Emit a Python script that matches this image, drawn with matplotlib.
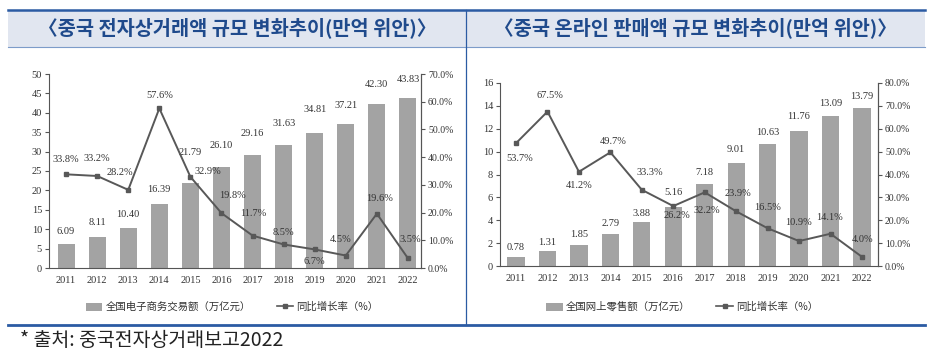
import numpy as np
import matplotlib
matplotlib.use("Agg")
import matplotlib.pyplot as plt
from matplotlib.patches import Rectangle, Patch
from matplotlib.lines import Line2D


years = ["2011", "2012", "2013", "2014", "2015", "2016",
         "2017", "2018", "2019", "2020", "2021", "2022"]

# left panel: e-commerce transaction volume
ecom_values = [6.09, 8.11, 10.40, 16.39, 21.79, 26.10, 29.16, 31.63, 34.81, 37.21, 42.30, 43.83]
ecom_growth = [33.8, 33.2, 28.2, 57.6, 32.9, 19.8, 11.7, 8.5, 6.7, 4.5, 19.6, 3.5]

# right panel: online retail sales
retail_values = [0.78, 1.31, 1.85, 2.79, 3.88, 5.16, 7.18, 9.01, 10.63, 11.76, 13.09, 13.79]
retail_growth = [53.7, 67.5, 41.2, 49.7, 33.3, 26.2, 32.2, 23.9, 16.5, 10.9, 14.1, 4.0]

left_title = "〈중국 전자상거래액 규모 변화추이(만억 위안)〉"
right_title = "〈중국 온라인 판매액 규모 변화추이(만억 위안)〉"
left_bar_label = "全国电子商务交易额（万亿元）"
right_bar_label = "全国网上零售额（万亿元）"
line_label = "同比增长率（%）"
source_note = "* 출처: 중국전자상거래보고2022"

# label offsets in pixels (dx, dy), picked by eye from the original
left_pct_off = [(0, 15), (0, 17), (-8, 17), (0, 13), (17, 5), (11, 18),
                (1, 22), (0, 12), (0, -12), (-5, 16), (3, 15), (2, 19)]
left_bar_off = [13, 14, 13, 15, 31, 21, 21, 22, 23, 18, 19, 18]
right_pct_off = [(4, -15), (2, 16), (0, -14), (3, 11), (8, 17), (4, -9),
                 (2, -18), (2, 18), (0, 21), (-1, 19), (-1, 16), (1, 17)]
right_bar_off = [10, 9, 10, 11, 8, 14, 11, 13, 12, 15, 13, 12]

W, H = 930, 356
bar_color = "#a3a3a3"
line_color = "#585858"
axis_color = "#555555"
text_color = "#333333"
serif = ["Liberation Serif", "DejaVu Serif"]
cjk = ["Noto Sans CJK SC", "DejaVu Sans"]
kr = ["Noto Sans CJK KR", "DejaVu Sans"]


def px_rect(x0, y_top, x1, y_bottom):
    return [x0 / W, 1 - y_bottom / H, (x1 - x0) / W, (y_bottom - y_top) / H]


def draw_panel(fig, rect, values, growth, ymax, ystep, pmax, xlim,
               pct_off, bar_off, bar_label, legend_x):
    ax = fig.add_axes(rect)
    x = np.arange(len(years))
    ax.bar(x, values, width=0.55, color=bar_color, zorder=2)
    ax.set_xlim(*xlim)
    ax.set_ylim(0, ymax)
    ax.set_yticks(np.arange(0, ymax + 0.01, ystep))
    ax.set_xticks(x)
    ax.set_xticklabels(years)
    ax.spines["top"].set_visible(False)
    for s in ("left", "bottom", "right"):
        ax.spines[s].set_color(axis_color)
        ax.spines[s].set_linewidth(0.8)
    ax.tick_params(axis="y", length=3, width=0.8, color=axis_color, pad=2,
                   labelsize=7.5, labelcolor=text_color)
    ax.tick_params(axis="x", length=0, pad=6, labelsize=7.5, labelcolor=text_color)
    for lab in ax.get_xticklabels() + ax.get_yticklabels():
        lab.set_family(serif)

    for i, v in enumerate(values):
        ax.annotate(f"{v:.2f}", (x[i], v), xytext=(0, bar_off[i]),
                    textcoords="offset pixels", ha="center", va="center",
                    fontsize=7.5, family=serif, color=text_color, zorder=5)

    ax2 = ax.twinx()
    ax2.plot(x, growth, color=line_color, linewidth=1.4, marker="s",
             markersize=3.5, zorder=4)
    ax2.set_ylim(0, pmax)
    ax2.set_yticks(np.arange(0, pmax + 0.01, 10))
    ax2.set_yticklabels([f"{t:.1f}%" for t in np.arange(0, pmax + 0.01, 10)])
    for s in ("top", "left", "bottom"):
        ax2.spines[s].set_visible(False)
    ax2.spines["right"].set_color(axis_color)
    ax2.spines["right"].set_linewidth(0.8)
    ax2.tick_params(axis="y", length=3, width=0.8, color=axis_color, pad=2,
                    labelsize=7, labelcolor=text_color)
    for lab in ax2.get_yticklabels():
        lab.set_family(serif)

    for i, g in enumerate(growth):
        dx, dy = pct_off[i]
        ax2.annotate(f"{g:.1f}%", (x[i], g), xytext=(dx, dy),
                     textcoords="offset pixels", ha="center", va="center",
                     fontsize=7.5, family=serif, color=text_color, zorder=6)

    handles = [Patch(facecolor=bar_color, edgecolor="none"),
               Line2D([0], [0], color=line_color, linewidth=1.2, marker="s",
                      markersize=2.5)]
    fig.legend(handles, [bar_label, line_label], loc="center",
               bbox_to_anchor=(legend_x / W, 1 - 307 / H), ncol=2,
               frameon=False, prop={"family": cjk, "size": 7.5},
               handlelength=1.6, handleheight=0.8, handletextpad=0.3,
               columnspacing=2.5, labelcolor=text_color)
    return ax, ax2


def draw_frame(fig):
    # header band, top and bottom rules, middle divider
    fig.add_artist(Rectangle((8 / W, 1 - 47 / H), (925 - 8) / W, 37 / H,
                             transform=fig.transFigure, facecolor="#e1e6f0",
                             edgecolor="none", zorder=0))
    fig.add_artist(Line2D([8 / W, 925 / W], [1 - 9.5 / H] * 2,
                          transform=fig.transFigure, color="#2b5ba3", linewidth=1.8))
    fig.add_artist(Line2D([8 / W, 925 / W], [1 - 47 / H] * 2,
                          transform=fig.transFigure, color="#7d9cc9", linewidth=0.8))
    fig.add_artist(Line2D([8 / W, 925 / W], [1 - 325 / H] * 2,
                          transform=fig.transFigure, color="#2b5ba3", linewidth=2.0))
    fig.add_artist(Line2D([466 / W, 466 / W], [1 - 10 / H, 1 - 325 / H],
                          transform=fig.transFigure, color="#2b5ba3", linewidth=0.9))

    fig.text(237 / W, 1 - 28 / H, left_title, ha="center", va="center",
             family=kr, fontsize=14.2, fontweight="bold", color="#1f4a8c")
    fig.text(695 / W, 1 - 28 / H, right_title, ha="center", va="center",
             family=kr, fontsize=14.2, fontweight="bold", color="#1f4a8c")
    fig.text(20 / W, 1 - 340 / H, source_note, ha="left", va="center",
             family=kr, fontsize=14, color="#222222")


def main():
    fig = plt.figure(figsize=(W / 100, H / 100), dpi=100)
    fig.patch.set_facecolor("white")
    draw_frame(fig)

    draw_panel(fig, px_rect(49, 74, 421, 268), ecom_values, ecom_growth,
               50, 5, 70, (-0.55, 11.42), left_pct_off, left_bar_off,
               left_bar_label, 232)
    draw_panel(fig, px_rect(500, 83, 878, 266), retail_values, retail_growth,
               16, 2, 80, (-0.51, 11.51), right_pct_off, right_bar_off,
               right_bar_label, 682)

    fig.savefig("out.png", dpi=100)


if __name__ == "__main__":
    main()
